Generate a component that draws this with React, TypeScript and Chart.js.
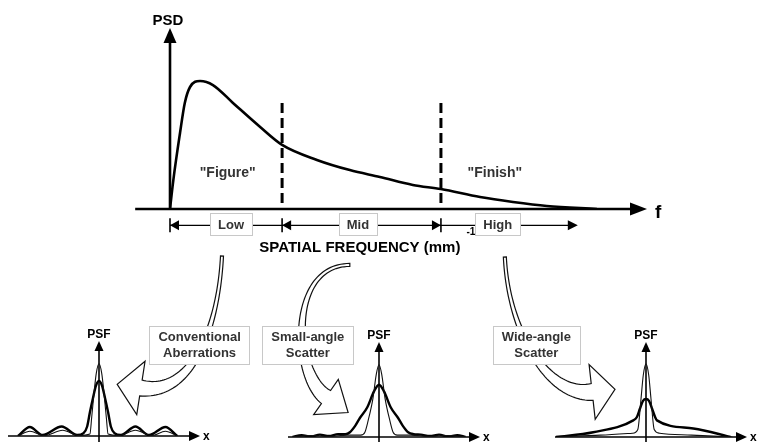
import React, { useEffect, useRef } from "react";
import { Chart, registerables } from "chart.js";

Chart.register(...registerables);

const FONT = '"Liberation Sans", Arial, Helvetica, sans-serif';
const INK = "#000";
const GREY_TEXT = "#333";

// ---------- PSD curve (frequency 0..100, PSD 0..100) ----------
const psdFreq = [0, 0.7, 2.1, 3.1, 4.2, 6.3, 9.0, 13.2, 18.9, 23.5, 30.8, 37.7, 44.0, 50.9, 56.8, 65.0, 71.9, 79.0, 89.5];
const psdValue = [0, 16, 42, 58.6, 67.4, 70.7, 68.5, 58.6, 45.3, 35.4, 27.1, 21.5, 17.7, 13.3, 11.0, 6.6, 3.9, 1.7, 0];

const dividerFreq = [23.5, 56.8];
const dividerTop = 58.6;

const bandEdges = [0, 23.5, 56.8, 85.5];
const bandLabels = ["Low", "Mid", "High"];
const bandLabelAt = [12.8, 39.4, 68.7];
const bandLevel = -9;

const regionLabels = ['"Figure"', '"Finish"'];
const regionLabelAt = [12.1, 68.1];
const regionLevel = 19.8;

const yTitle = "PSD";
const xTitle = "f";
const axisCaption = "SPATIAL FREQUENCY (mm)";
const axisCaptionExp = "-1";
const axisCaptionAt = 39.8;
const axisStartF = -7.3;
const axisEndF = 100;
const axisTopPsd = 100;

const calloutLines = [
  ["Conventional", "Aberrations"],
  ["Small-angle", "Scatter"],
  ["Wide-angle", "Scatter"],
];
const calloutAt = [6.2, 28.9, 76.8];
const calloutLevel = -75.4;

// hollow curved arrows (bezier control points in PSD-chart units)
type Pt = [number, number];
const arrowCurves: Pt[][] = [
  [[10.9, -26.0], [10.1, -66.9], [4.4, -103.2], [-6.1, -98.9]],
  [[37.7, -30.9], [24.7, -30.9], [25.8, -91.2], [32.7, -103.9]],
  [[70.2, -26.5], [70.9, -66.9], [79.0, -103.9], [88.5, -101.1]],
];
const arrowEndWidth = [16, 16, 17];
const arrowHeadLen = [24, 27, 23];
const arrowHeadHalf = [27, 21.5, 27.5];

// ---------- PSF curves (x -10..10, PSF 0..100) ----------
const psf1ThinX = [-8.9, -7.6, -6.0, -4.0, -2.2, -1.0, -0.8, -0.55, -0.3, 0, 0.3, 0.55, 0.8, 1.0, 2.2, 4.0, 5.8, 7.3, 8.6];
const psf1ThinY = [0, 5, 0.5, 6, 0.5, 2, 20, 45, 66, 76, 66, 45, 20, 2, 0.5, 6, 0.5, 5, 0];
const psf1ThickX = [-8.9, -7.6, -6.2, -4.1, -2.4, -1.7, -1.3, -1.0, -0.66, -0.33, 0, 0.33, 0.66, 1.0, 1.3, 1.7, 2.4, 4.0, 5.5, 7.3, 8.6];
const psf1ThickY = [0, 9.5, 1, 10, 1, 3, 10, 25, 40, 53, 58, 53, 40, 25, 10, 3, 1, 10, 1, 9.5, 0];

const psf2ThinX = [-9.5, -7.5, -5.5, -3.5, -2.0, -1.55, -1.2, -0.66, -0.3, 0, 0.3, 0.66, 1.2, 1.55, 2.0, 3.5, 5.5, 7.5, 9.5];
const psf2ThinY = [0, 1.5, 0.5, 2, 2, 5, 17, 41, 66, 76, 66, 41, 17, 5, 2, 2, 0.5, 1.5, 0];
const psf2ThickX = [-9.5, -8.5, -7.5, -6.5, -5.5, -4.5, -3.7, -3.2, -2.6, -2.1, -1.3, -0.55, 0, 0.55, 1.3, 2.1, 2.6, 3.2, 3.8, 4.6, 5.6, 6.6, 7.6, 8.6, 9.5];
const psf2ThickY = [0, 2, 0.5, 2.5, 1, 3, 3, 5, 12, 20, 31, 48, 55, 48, 31, 20, 12, 5, 3, 2.5, 1, 2.5, 0.5, 2, 0];

const psf3ThinX = [-9.5, -5.0, -1.5, -0.9, -0.55, -0.3, 0, 0.3, 0.55, 0.9, 1.5, 5.0, 9.5];
const psf3ThinY = [0, 2, 4, 8, 40, 65, 77, 65, 40, 8, 4, 2, 0];
const psf3ThickX = [-9.9, -5.8, -1.4, -1.0, -0.66, -0.33, 0, 0.33, 0.66, 1.0, 1.2, 5.2, 8.9, 9.3];
const psf3ThickY = [0, 5, 17.5, 21, 30, 38, 40, 38, 30, 21, 17.5, 9, 1, 0];

const psfTitle = "PSF";
const psfAxisLabel = "x";
const psfAxisEnd = 11.1;

// ---------- helpers ----------
function arrowHead(ctx: CanvasRenderingContext2D, tx: number, ty: number, dx: number, dy: number, len: number, half: number) {
  const l = Math.hypot(dx, dy) || 1;
  const ux = dx / l, uy = dy / l;
  const bx = tx - ux * len, by = ty - uy * len;
  ctx.beginPath();
  ctx.moveTo(tx, ty);
  ctx.lineTo(bx - uy * half, by + ux * half);
  ctx.lineTo(bx + uy * half, by - ux * half);
  ctx.closePath();
  ctx.fill();
}

function bez(p: Pt[], t: number): Pt {
  const a = (1 - t) ** 3, b = 3 * (1 - t) ** 2 * t, c = 3 * (1 - t) * t * t, d = t ** 3;
  return [a * p[0][0] + b * p[1][0] + c * p[2][0] + d * p[3][0], a * p[0][1] + b * p[1][1] + c * p[2][1] + d * p[3][1]];
}
function bezD(p: Pt[], t: number): Pt {
  const a = 3 * (1 - t) ** 2, b = 6 * (1 - t) * t, c = 3 * t * t;
  return [
    a * (p[1][0] - p[0][0]) + b * (p[2][0] - p[1][0]) + c * (p[3][0] - p[2][0]),
    a * (p[1][1] - p[0][1]) + b * (p[2][1] - p[1][1]) + c * (p[3][1] - p[2][1]),
  ];
}

function hollowArrow(ctx: CanvasRenderingContext2D, pts: Pt[], w0: number, w1: number, headLen: number, headHalf: number) {
  const N = 60;
  const L: Pt[] = [], R: Pt[] = [];
  for (let i = 0; i <= N; i++) {
    const t = i / N;
    const [x, y] = bez(pts, t);
    const [dx, dy] = bezD(pts, t);
    const l = Math.hypot(dx, dy) || 1;
    const nx = -dy / l, ny = dx / l;
    const w = (w0 + (w1 - w0) * t * t) / 2;
    L.push([x + nx * w, y + ny * w]);
    R.push([x - nx * w, y - ny * w]);
  }
  const [ex, ey] = pts[3];
  const [dx, dy] = bezD(pts, 1);
  const l = Math.hypot(dx, dy) || 1;
  const ux = dx / l, uy = dy / l;
  const nx = -uy, ny = ux;
  ctx.beginPath();
  ctx.moveTo(L[0][0], L[0][1]);
  for (const p of L) ctx.lineTo(p[0], p[1]);
  ctx.lineTo(ex + nx * headHalf, ey + ny * headHalf);
  ctx.lineTo(ex + ux * headLen, ey + uy * headLen);
  ctx.lineTo(ex - nx * headHalf, ey - ny * headHalf);
  for (let i = R.length - 1; i >= 0; i--) ctx.lineTo(R[i][0], R[i][1]);
  ctx.closePath();
  ctx.fillStyle = "#fff";
  ctx.fill();
  ctx.strokeStyle = "#111";
  ctx.lineWidth = 1.2;
  ctx.stroke();
}

function labelBox(ctx: CanvasRenderingContext2D, cx: number, cy: number, w: number, h: number) {
  ctx.fillStyle = "#fff";
  ctx.fillRect(Math.round(cx - w / 2) + 0.5, Math.round(cy - h / 2) + 0.5, Math.round(w), Math.round(h));
  ctx.strokeStyle = "#c8c8c8";
  ctx.lineWidth = 1;
  ctx.strokeRect(Math.round(cx - w / 2) + 0.5, Math.round(cy - h / 2) + 0.5, Math.round(w), Math.round(h));
}

const mainDecor = {
  id: "mainDecor",
  beforeDatasetsDraw(chart: any) {
    const ctx: CanvasRenderingContext2D = chart.ctx;
    const X = (v: number) => chart.scales.x.getPixelForValue(v);
    const Y = (v: number) => chart.scales.y.getPixelForValue(v);
    ctx.save();
    ctx.strokeStyle = INK;
    ctx.fillStyle = INK;
    ctx.lineWidth = 2.6;
    ctx.beginPath();
    ctx.moveTo(X(axisStartF), Y(0));
    ctx.lineTo(X(axisEndF) - 10, Y(0));
    ctx.stroke();
    arrowHead(ctx, X(axisEndF), Y(0), 1, 0, 17, 6.5);
    ctx.beginPath();
    ctx.moveTo(X(0), Y(0));
    ctx.lineTo(X(0), Y(axisTopPsd) + 10);
    ctx.stroke();
    arrowHead(ctx, X(0), Y(axisTopPsd), 0, -1, 15, 6.5);

    ctx.setLineDash([10, 5]);
    ctx.lineWidth = 3;
    for (const f of dividerFreq) {
      ctx.beginPath();
      ctx.moveTo(X(f), Y(dividerTop));
      ctx.lineTo(X(f), Y(0));
      ctx.stroke();
    }
    ctx.setLineDash([]);
    ctx.restore();
  },
  afterDatasetsDraw(chart: any) {
    const ctx: CanvasRenderingContext2D = chart.ctx;
    const X = (v: number) => chart.scales.x.getPixelForValue(v);
    const Y = (v: number) => chart.scales.y.getPixelForValue(v);
    ctx.save();

    // axis titles
    ctx.fillStyle = INK;
    ctx.textAlign = "center";
    ctx.textBaseline = "alphabetic";
    ctx.font = `bold 15px ${FONT}`;
    ctx.fillText(yTitle, X(0) - 2, Y(axisTopPsd) - 3);
    ctx.textAlign = "left";
    ctx.font = `bold 19px ${FONT}`;
    ctx.fillText(xTitle, X(axisEndF) + 8, Y(0) + 9);

    // region labels
    ctx.fillStyle = GREY_TEXT;
    ctx.textAlign = "center";
    ctx.textBaseline = "middle";
    ctx.font = `bold 14px ${FONT}`;
    regionLabels.forEach((s, i) => ctx.fillText(s, X(regionLabelAt[i]), Y(regionLevel)));

    // band arrows
    const by = Y(bandLevel);
    ctx.strokeStyle = INK;
    ctx.fillStyle = INK;
    ctx.lineWidth = 1.3;
    ctx.beginPath();
    ctx.moveTo(X(bandEdges[0]), by);
    ctx.lineTo(X(bandEdges[3]) - 6, by);
    ctx.stroke();
    ctx.lineWidth = 1.6;
    for (let i = 0; i < 3; i++) {
      ctx.beginPath();
      ctx.moveTo(X(bandEdges[i]), by - 7);
      ctx.lineTo(X(bandEdges[i]), by + 7);
      ctx.stroke();
    }
    arrowHead(ctx, X(bandEdges[0]), by, -1, 0, 9, 5);
    arrowHead(ctx, X(bandEdges[1]), by, -1, 0, 9, 5);
    arrowHead(ctx, X(bandEdges[2]), by, 1, 0, 9, 5);
    arrowHead(ctx, X(bandEdges[3]), by, 1, 0, 10, 5);
    ctx.font = `bold 13px ${FONT}`;
    bandLabels.forEach((s, i) => {
      const w = ctx.measureText(s).width + 16;
      labelBox(ctx, X(bandLabelAt[i]), by - 1, w, 22);
      ctx.fillStyle = GREY_TEXT;
      ctx.textAlign = "center";
      ctx.textBaseline = "middle";
      ctx.fillText(s, X(bandLabelAt[i]), by);
    });

    // axis caption
    ctx.fillStyle = INK;
    ctx.font = `bold 15px ${FONT}`;
    ctx.textAlign = "center";
    ctx.textBaseline = "alphabetic";
    const capX = X(axisCaptionAt);
    const capY = Y(0) + 43;
    ctx.fillText(axisCaption, capX, capY);
    const capW = ctx.measureText(axisCaption).width;
    ctx.font = `bold 10px ${FONT}`;
    ctx.textAlign = "left";
    ctx.fillText(axisCaptionExp, capX + capW / 2 + 6, capY - 17);

    // hollow arrows
    arrowCurves.forEach((c, i) => {
      const pts = c.map(([a, b]) => [X(a), Y(b)] as Pt);
      hollowArrow(ctx, pts, 3, arrowEndWidth[i], arrowHeadLen[i], arrowHeadHalf[i]);
    });

    // callout boxes
    ctx.font = `bold 13px ${FONT}`;
    calloutLines.forEach((lines, i) => {
      const w = Math.max(...lines.map((s) => ctx.measureText(s).width)) + 18;
      const cx = X(calloutAt[i]);
      const cy = Y(calloutLevel);
      labelBox(ctx, cx, cy, w, 38);
      ctx.fillStyle = GREY_TEXT;
      ctx.textAlign = "center";
      ctx.textBaseline = "middle";
      ctx.fillText(lines[0], cx, cy - 8);
      ctx.fillText(lines[1], cx, cy + 8);
    });

    ctx.restore();
  },
};

const psfDecor = {
  id: "psfDecor",
  beforeDatasetsDraw(chart: any) {
    const ctx: CanvasRenderingContext2D = chart.ctx;
    const X = (v: number) => chart.scales.x.getPixelForValue(v);
    const Y = (v: number) => chart.scales.y.getPixelForValue(v);
    ctx.save();
    ctx.strokeStyle = INK;
    ctx.fillStyle = INK;
    ctx.lineWidth = 1.6;
    ctx.beginPath();
    ctx.moveTo(X(-10), Y(0));
    ctx.lineTo(X(psfAxisEnd) - 8, Y(0));
    ctx.stroke();
    arrowHead(ctx, X(psfAxisEnd), Y(0), 1, 0, 11, 5);
    ctx.beginPath();
    ctx.moveTo(X(0), Y(0) + 7);
    ctx.lineTo(X(0), Y(100) + 8);
    ctx.stroke();
    arrowHead(ctx, X(0), Y(100), 0, -1, 10, 4.5);
    ctx.font = `bold 12px ${FONT}`;
    ctx.textAlign = "center";
    ctx.textBaseline = "alphabetic";
    ctx.fillText(psfTitle, X(0), Y(100) - 3);
    ctx.textAlign = "left";
    ctx.fillText(psfAxisLabel, X(psfAxisEnd) + 3, Y(0) + 4);
    ctx.restore();
  },
};

function makeMain(canvas: HTMLCanvasElement) {
  return new Chart(canvas, {
    type: "line",
    data: {
      datasets: [
        {
          data: psdFreq.map((f, i) => ({ x: f, y: psdValue[i] })),
          borderColor: INK,
          borderWidth: 2.6,
          pointRadius: 0,
          cubicInterpolationMode: "monotone",
          fill: false,
        },
      ],
    },
    options: {
      animation: false,
      responsive: false,
      maintainAspectRatio: false,
      layout: { padding: { left: 170, right: 111, top: 28, bottom: 233 } },
      scales: {
        x: { type: "linear", min: 0, max: 100, display: false },
        y: { type: "linear", min: 0, max: 100, display: false },
      },
      plugins: { legend: { display: false }, tooltip: { enabled: false } },
    },
    plugins: [mainDecor],
  } as any);
}

function makePsf(canvas: HTMLCanvasElement, thinX: number[], thinY: number[], thickX: number[], thickY: number[]) {
  const w = canvas.width;
  const h = canvas.height;
  return new Chart(canvas, {
    type: "line",
    data: {
      datasets: [
        {
          data: thinX.map((x, i) => ({ x, y: thinY[i] })),
          borderColor: "#111",
          borderWidth: 1.1,
          pointRadius: 0,
          cubicInterpolationMode: "monotone",
          fill: false,
        },
        {
          data: thickX.map((x, i) => ({ x, y: thickY[i] })),
          borderColor: INK,
          borderWidth: 2.4,
          pointRadius: 0,
          cubicInterpolationMode: "monotone",
          fill: false,
        },
      ],
    },
    options: {
      animation: false,
      responsive: false,
      maintainAspectRatio: false,
      layout: { padding: { left: 8, right: w - 190, top: 20, bottom: h - 115 } },
      scales: {
        x: { type: "linear", min: -10, max: 10, display: false },
        y: { type: "linear", min: 0, max: 100, display: false },
      },
      plugins: { legend: { display: false }, tooltip: { enabled: false } },
    },
    plugins: [psfDecor],
  } as any);
}

export default function App() {
  const mainRef = useRef<HTMLCanvasElement>(null);
  const p1 = useRef<HTMLCanvasElement>(null);
  const p2 = useRef<HTMLCanvasElement>(null);
  const p3 = useRef<HTMLCanvasElement>(null);

  useEffect(() => {
    const charts = [
      makeMain(mainRef.current!),
      makePsf(p1.current!, psf1ThinX, psf1ThinY, psf1ThickX, psf1ThickY),
      makePsf(p2.current!, psf2ThinX, psf2ThinY, psf2ThickX, psf2ThickY),
      makePsf(p3.current!, psf3ThinX, psf3ThinY, psf3ThickX, psf3ThickY),
    ];
    return () => charts.forEach((c) => c.destroy());
  }, []);

  const abs = (left: number, top: number, width: number, height: number): React.CSSProperties => ({
    position: "absolute",
    left,
    top,
    width,
    height,
  });

  return (
    <div style={{ position: "fixed", left: 0, top: 0, width: 758, height: 442, background: "#fff", overflow: "hidden" }}>
      <canvas ref={mainRef} width={758} height={442} style={abs(0, 0, 758, 442)} />
      <canvas ref={p1} width={240} height={122} style={abs(0, 321, 240, 122)} />
      <canvas ref={p2} width={240} height={122} style={abs(280, 322, 240, 122)} />
      <canvas ref={p3} width={211} height={122} style={abs(547, 322, 211, 122)} />
    </div>
  );
}
